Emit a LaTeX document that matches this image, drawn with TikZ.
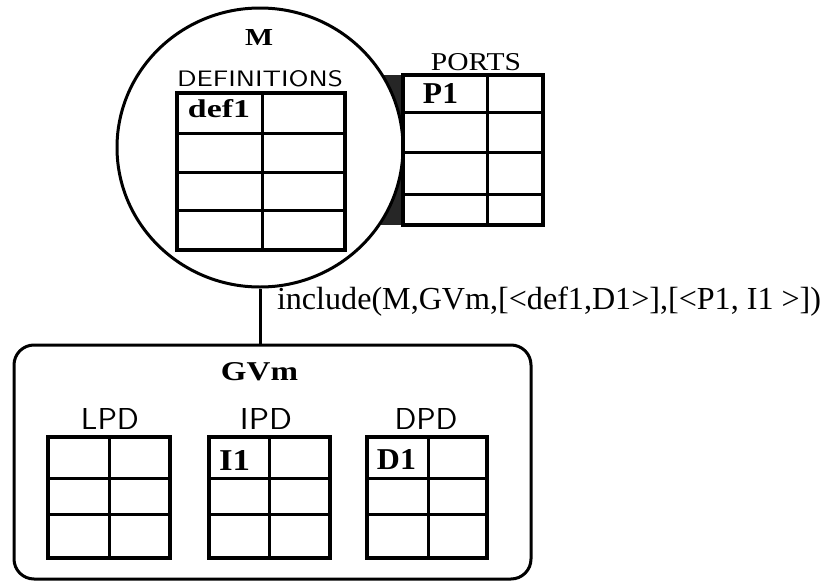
\documentclass[tikz,border=0pt]{standalone}
\usepackage{fontspec}
\usepackage{graphicx}
\usetikzlibrary{shapes.geometric}
\newfontfamily\labserif{Liberation Serif}
% scale a piece of text to an exact ink width and height (in pt)
\newcommand\fitbox[3]{\resizebox{#1pt}{#2pt}{#3}}
% a two-column table: name, left, top, right, bottom, column split, row lines
\newcommand\celltable[7]{%
  \node[tablebox, minimum width={(#4)-(#2)}, minimum height={(#5)-(#3)}]
    (#1) at ({((#2)+(#4))/2},{((#3)+(#5))/2}) {};
  \draw[cellline] (#6,#3) -- (#6,#5);
  \foreach \rowy in {#7} \draw[cellline] (#2,\rowy) -- (#4,\rowy);
  \draw[tableedge] (#2,#3) rectangle (#4,#5);
}
\begin{document}
\begin{tikzpicture}[x=1pt,y=-1pt,
  tablebox/.style={draw=none, inner sep=0pt, outer sep=0pt},
  cellline/.style={line width=3pt},
  tableedge/.style={line width=4pt, line join=miter},
  frame/.style={line width=3pt},
  txt/.style={inner sep=0pt, outer sep=0pt},
  bold/.style={txt, font=\labserif\bfseries},
  caps/.style={txt, font=\sffamily}]
\useasboundingbox (0,0) rectangle (825,581);

% dark wedge joining the module to its port table
\fill[black!85] (370,75) rectangle (403,225);

% module M
\node[ellipse, draw, fill=white, line width=3pt, inner sep=0pt,
      minimum width=286pt, minimum height=279pt] (M) at (260,147.5) {};
\node[bold] (Mname) at (259,37.5) {\fitbox{28}{16}{M}};
\node[caps] (deflabel) at (260,79) {\fitbox{166}{16}{DEFINITIONS}};
\celltable{deftab}{177}{93}{345}{250}{262}{133,172,210}
\node[bold] (def1) at (219,109) {\fitbox{62}{18}{def1}};

% port table
\node[txt, font=\labserif] (portlabel) at (476,62.5) {\fitbox{90}{17}{PORTS}};
\celltable{porttab}{403}{75}{543}{225}{487}{112,152,194}
\node[bold] (P1) at (440.5,93) {\fitbox{35}{20}{P1}};

% target graph view
\node[draw, frame, rounded corners=20pt, inner sep=0pt,
      minimum width=517pt, minimum height=234pt] (GVm) at (272.5,462) {};
\draw[frame] (M.south) -- (M.south |- GVm.north);
\node[txt, font=\labserif, anchor=base west] (inclabel) at (277,309)
  {\resizebox{544pt}{!}{include(M,GVm,[<def1,D1>],[<P1, I1 >])}};
\node[bold] (GVmname) at (259.5,372) {\fitbox{77}{18}{GVm}};

\node[caps] (lpdlabel) at (110,419) {\fitbox{58}{21}{LPD}};
\node[caps] (ipdlabel) at (266,419) {\fitbox{52}{21}{IPD}};
\node[caps] (dpdlabel) at (426,419) {\fitbox{63}{21}{DPD}};
\celltable{lpd}{48}{437}{170}{558}{109}{478,514}
\celltable{ipd}{209}{437}{330}{558}{269}{478,514}
\celltable{dpd}{367}{437}{487}{558}{428}{478,514}
\node[bold] (I1) at (234.5,460) {\fitbox{31}{20}{I1}};
\node[bold] (D1) at (396.5,460) {\fitbox{39}{20}{D1}};
\end{tikzpicture}
\end{document}
